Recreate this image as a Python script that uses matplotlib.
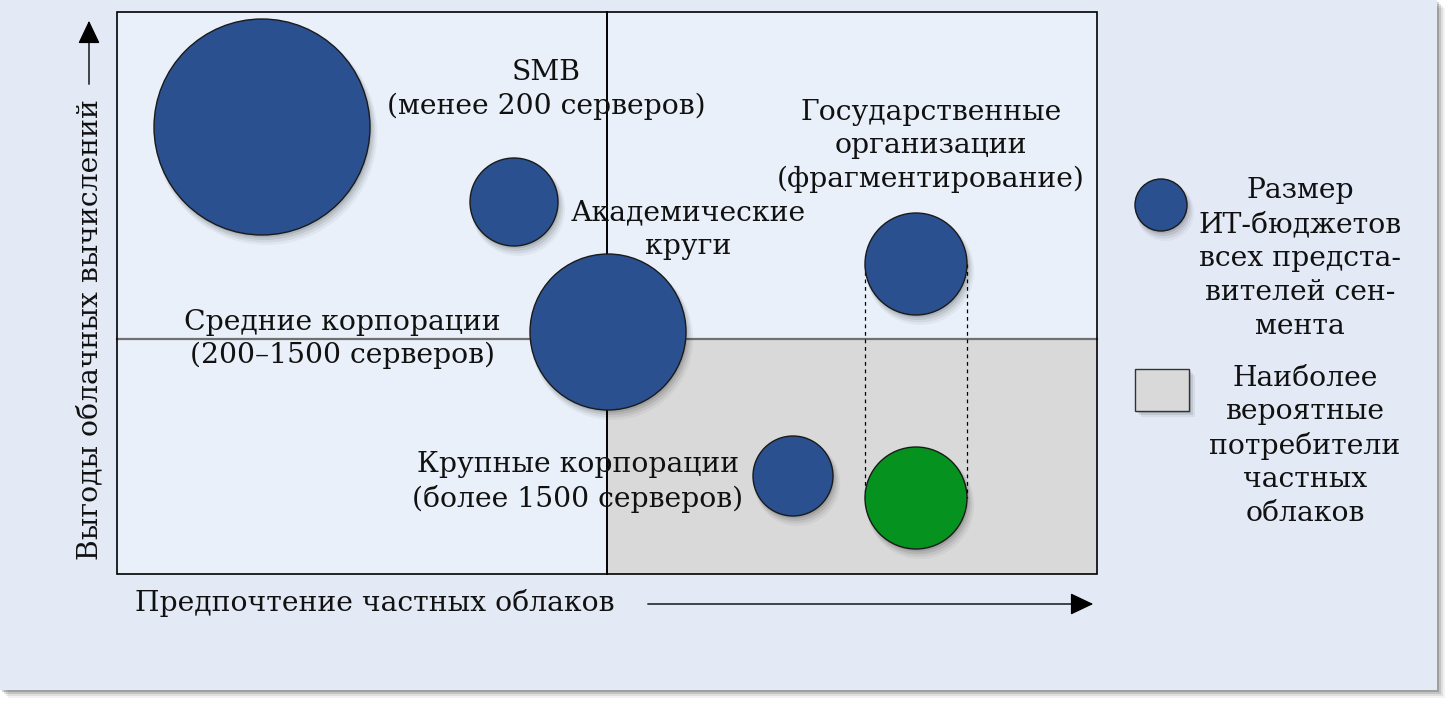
import matplotlib
matplotlib.use("Agg")
import matplotlib.pyplot as plt
from matplotlib.patches import Circle, Rectangle, FancyArrowPatch

plt.rcParams['font.family'] = ['DejaVu Serif']

W, H = 1451, 705

# Segment bubbles: centre x, centre y, radius (canvas units), colour
seg_x = [262, 514, 608, 916, 793, 916]
seg_y = [127, 202, 332, 264, 476, 498]
seg_r = [108, 44, 78, 51, 40, 51]
seg_color = ['#2a5090', '#2a5090', '#2a5090', '#2a5090', '#2a5090', '#05921e']

# Segment labels: text, x, y of first line
label_text = [
    "SMB\n(менее 200 серверов)",
    "Академические\nкруги",
    "Государственные\nорганизации\n(фрагментирование)",
    "Средние корпорации\n(200–1500 серверов)",
    "Крупные корпорации\n(более 1500 серверов)",
]
label_x = [546, 688, 931, 342, 578]
label_y = [73, 213, 112, 322, 465]

legend_text = [
    "Размер\nИТ-бюджетов\nвсех предста-\nвителей сен-\nмента",
    "Наиболее\nвероятные\nпотребители\nчастных\nоблаков",
]

x_title = "Предпочтение частных облаков"
y_title = "Выгоды облачных вычислений"

# Plot frame and quadrant split
frame_x0, frame_x1, frame_y0, frame_y1 = 117, 1097, 12, 574
split_x, split_y = 607, 339

FS = 20.3
LINE = 33.8

fig = plt.figure(figsize=(W / 100, H / 100), dpi=100)
fig.patch.set_facecolor('white')
ax = fig.add_axes([0, 0, 1, 1])
ax.set_xlim(0, W)
ax.set_ylim(H, 0)
ax.axis('off')

# Panel with soft shadow
for i, a in enumerate([0.05, 0.08, 0.12, 0.18]):
    off = 8 - i * 2
    ax.add_patch(Rectangle((off, off), 1437, 690, facecolor='#000000',
                           alpha=a, edgecolor='none', zorder=0))
ax.add_patch(Rectangle((0, 0), 1437, 690, facecolor='#e3eaf6',
                       edgecolor='none', zorder=1))

# Plot frame
ax.add_patch(Rectangle((frame_x0, frame_y0), frame_x1 - frame_x0,
                       frame_y1 - frame_y0, facecolor='#e9f0f9',
                       edgecolor='none', zorder=2))
ax.add_patch(Rectangle((split_x, split_y), frame_x1 - split_x,
                       frame_y1 - split_y, facecolor='#d9d9d9',
                       edgecolor='none', zorder=2))
ax.plot([frame_x0, frame_x1], [split_y, split_y], color='#707070', lw=1.6, zorder=3)
ax.plot([split_x, split_x], [frame_y0, frame_y1], color='black', lw=1.4, zorder=3)
ax.add_patch(Rectangle((frame_x0, frame_y0), frame_x1 - frame_x0,
                       frame_y1 - frame_y0, facecolor='none',
                       edgecolor='black', lw=1.2, zorder=3))

# Dashed link between government bubble and its private-cloud position
gx, gr = seg_x[3], seg_r[3]
for xx in (gx - gr, gx + gr):
    ax.plot([xx, xx], [seg_y[3], seg_y[5]], color='black', lw=0.9,
            ls=(0, (3, 3)), zorder=4)


def bubble(x, y, r, color, z=5):
    for k, a in enumerate([0.04, 0.06, 0.08, 0.10]):
        s = 7 - k * 1.5
        ax.add_patch(Circle((x + s * 0.6, y + s), r + 3 - k, facecolor='black',
                            alpha=a, edgecolor='none', zorder=z))
    ax.add_patch(Circle((x, y), r, facecolor=color, edgecolor='#1a1a1a',
                        lw=1.0, zorder=z + 1))


for x, y, r, c in zip(seg_x, seg_y, seg_r, seg_color):
    bubble(x, y, r, c)


def block(t, x, y0):
    # one text line per row, evenly spaced from the first row
    for i, line in enumerate(t.split('\n')):
        ax.text(x, y0 + i * LINE, line, fontsize=FS, color='#111111',
                ha='center', va='center', zorder=8)


for t, x, y in zip(label_text, label_x, label_y):
    block(t, x, y)

# Legend
bubble(1161, 205, 26, '#2a5090')
for k, a in enumerate([0.06, 0.09, 0.13]):
    s = 6 - k * 2
    ax.add_patch(Rectangle((1135 + s, 369 + s), 54, 42, facecolor='black',
                           alpha=a, edgecolor='none', zorder=5))
ax.add_patch(Rectangle((1135, 369), 54, 42, facecolor='#d9d9d9',
                       edgecolor='#333333', lw=1.0, zorder=6))
block(legend_text[0], 1300, 191)
block(legend_text[1], 1305, 378)

# Axis titles with arrows
arrow_kw = dict(arrowstyle='-|>,head_length=0.8,head_width=0.38',
                mutation_scale=18, color='black', lw=1.0, zorder=8)
ax.text(135, 603, x_title, fontsize=FS, color='#111111',
        ha='left', va='center', zorder=8)
ax.add_patch(FancyArrowPatch((645, 604), (1096, 604), **arrow_kw))
ax.text(90, 560, y_title, fontsize=20.3, color='#111111',
        ha='left', va='center', rotation=90,
        rotation_mode='anchor', zorder=8)
ax.add_patch(FancyArrowPatch((89, 87), (89, 18), **arrow_kw))

fig.savefig('out.png', dpi=100, facecolor='white')
